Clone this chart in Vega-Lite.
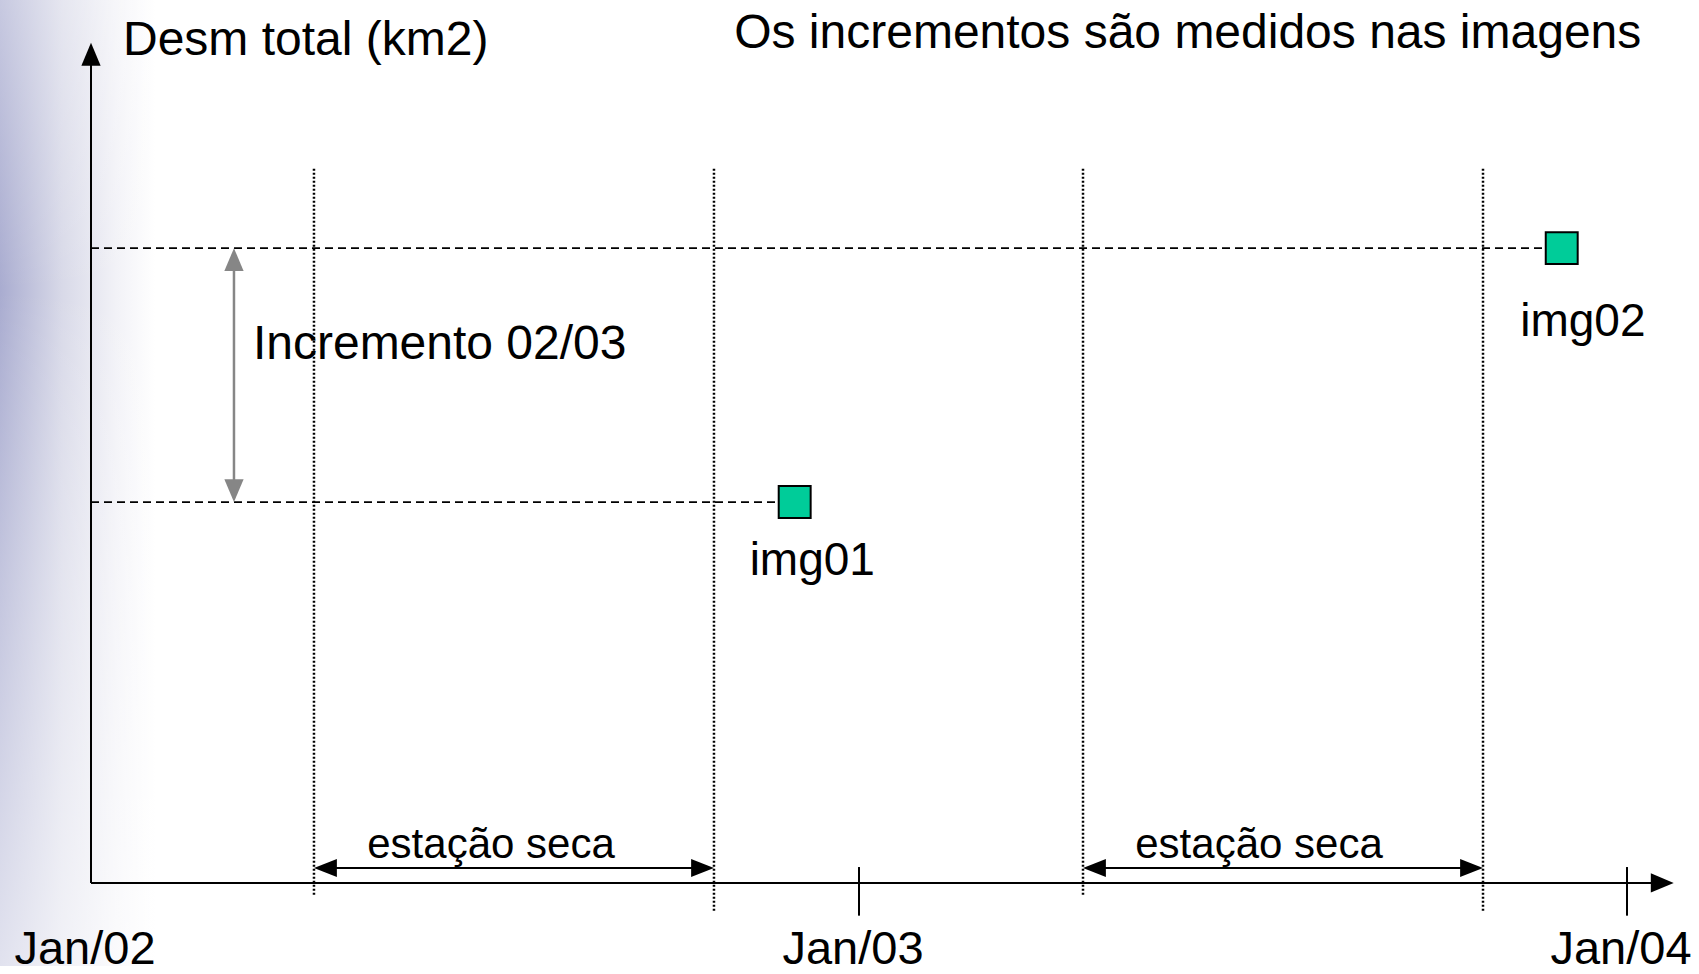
{
  "$schema": "https://vega.github.io/schema/vega-lite/v6.json",
  "width": 1699,
  "height": 974,
  "autosize": {"type": "fit", "contains": "padding"},
  "padding": 0,
  "background": "white",
  "config": {"view": {"stroke": null}, "text": {"font": "Liberation Sans", "color": "black"}},
  "datasets": {
    "bg": [{"t": -1.4219, "t2": 1.0, "v": -13.09, "v2": 139.09}],
    "solid": [
      {"t": 0, "t2": 0, "v": 0, "v2": 131},
      {"t": 0, "t2": 24.5, "v": 0, "v2": 0},
      {"t": 12, "t2": 12, "v": 2.5, "v2": -5.16},
      {"t": 24, "t2": 24, "v": 2.5, "v2": -5.16}
    ],
    "dotted": [
      {"t": 3.484, "t2": 3.484, "v": 112.5, "v2": -2.03},
      {"t": 9.734, "t2": 9.734, "v": 112.5, "v2": -4.69},
      {"t": 15.5, "t2": 15.5, "v": 112.5, "v2": -2.03},
      {"t": 21.75, "t2": 21.75, "v": 112.5, "v2": -4.69}
    ],
    "dashed": [
      {"t": 0, "t2": 10.995, "v": 60, "v2": 60},
      {"t": 0, "t2": 22.98, "v": 100, "v2": 100}
    ],
    "increment": [{"t": 2.234, "t2": 2.234, "v": 61, "v2": 99}],
    "season": [
      {"t": 3.6, "t2": 9.6, "v": 2.34, "v2": 2.34},
      {"t": 15.6, "t2": 21.6, "v": 2.34, "v2": 2.34}
    ],
    "heads": [
      {"t": 0, "v": 132.34, "dir": "up", "group": "axis"},
      {"t": 24.73, "v": 0, "dir": "right", "group": "axis"},
      {"t": 2.234, "v": 100, "dir": "up", "group": "increment"},
      {"t": 2.234, "v": 60, "dir": "down", "group": "increment"},
      {"t": 3.484, "v": 2.34, "dir": "sleft", "group": "axis"},
      {"t": 9.734, "v": 2.34, "dir": "sright", "group": "axis"},
      {"t": 15.5, "v": 2.34, "dir": "sleft", "group": "axis"},
      {"t": 21.75, "v": 2.34, "dir": "sright", "group": "axis"}
    ],
    "images": [
      {"name": "img01", "t": 10.995, "v": 60},
      {"name": "img02", "t": 22.98, "v": 100}
    ],
    "titles": [
      {"label": "Desm total (km2)", "t": 0.5, "v": 130.5},
      {"label": "Os incrementos são medidos nas imagens", "t": 10.05, "v": 131.6},
      {"label": "Incremento 02/03", "t": 2.53, "v": 82.5}
    ],
    "imglabels": [
      {"label": "img01", "t": 11.27, "v": 48.5},
      {"label": "img02", "t": 23.31, "v": 86.2}
    ],
    "seasonlabels": [
      {"label": "estação seca", "t": 6.25, "v": 3.9},
      {"label": "estação seca", "t": 18.25, "v": 3.9}
    ],
    "datelabels": [
      {"label": "Jan/02", "t": 0, "v": -12.8},
      {"label": "Jan/03", "t": 12, "v": -12.8},
      {"label": "Jan/04", "t": 24, "v": -12.8}
    ]
  },
  "encoding": {
    "x": {"field": "t", "type": "quantitative", "scale": {"domain": [-1.4219, 25.125], "nice": false, "zero": false}, "axis": null},
    "y": {"field": "v", "type": "quantitative", "scale": {"domain": [-13.09, 139.09], "nice": false, "zero": false}, "axis": null}
  },
  "layer": [
    {
      "data": {"name": "bg"},
      "mark": {"type": "rect", "fill": {"gradient": "linear", "x1": 0, "y1": 0, "x2": 1, "y2": 0, "stops": [{"offset": 0, "color": "#a9acd0"}, {"offset": 0.4, "color": "#d8d9e8"}, {"offset": 0.75, "color": "#f2f2f7"}, {"offset": 1, "color": "#ffffff"}]}},
      "encoding": {"x2": {"field": "t2"}, "y2": {"field": "v2"}}
    },
    {
      "data": {"name": "bg"},
      "mark": {"type": "rect", "fill": {"gradient": "linear", "x1": 0, "y1": 0, "x2": 0, "y2": 1, "stops": [{"offset": 0, "color": "rgba(255,255,255,0.35)"}, {"offset": 0.3, "color": "rgba(255,255,255,0)"}, {"offset": 0.6, "color": "rgba(255,255,255,0.3)"}, {"offset": 1, "color": "rgba(255,255,255,0.65)"}]}},
      "encoding": {"x2": {"field": "t2"}, "y2": {"field": "v2"}}
    },
    {
      "data": {"name": "dotted"},
      "mark": {"type": "rule", "color": "black", "strokeWidth": 2.5, "strokeDash": [2, 2]},
      "encoding": {"x2": {"field": "t2"}, "y2": {"field": "v2"}}
    },
    {
      "data": {"name": "dashed"},
      "mark": {"type": "rule", "color": "black", "strokeWidth": 1.8, "strokeDash": [8, 5]},
      "encoding": {"x2": {"field": "t2"}, "y2": {"field": "v2"}}
    },
    {
      "data": {"name": "solid"},
      "mark": {"type": "rule", "color": "black", "strokeWidth": 2},
      "encoding": {"x2": {"field": "t2"}, "y2": {"field": "v2"}}
    },
    {
      "data": {"name": "season"},
      "mark": {"type": "rule", "color": "black", "strokeWidth": 2},
      "encoding": {"x2": {"field": "t2"}, "y2": {"field": "v2"}}
    },
    {
      "data": {"name": "increment"},
      "mark": {"type": "rule", "color": "#868686", "strokeWidth": 2.5},
      "encoding": {"x2": {"field": "t2"}, "y2": {"field": "v2"}}
    },
    {
      "data": {"name": "heads"},
      "mark": {"type": "point", "filled": true, "size": 580, "opacity": 1, "strokeWidth": 0},
      "encoding": {
        "shape": {"field": "dir", "type": "nominal", "scale": {"domain": ["up", "down", "right", "sleft", "sright"], "range": ["M0,0L-0.8,1.9L0.8,1.9Z", "M0,0L-0.8,-1.9L0.8,-1.9Z", "M0,0L-1.9,-0.8L-1.9,0.8Z", "M0,0L1.9,-0.75L1.9,0.75Z", "M0,0L-1.9,-0.75L-1.9,0.75Z"]}, "legend": null},
        "color": {"field": "group", "type": "nominal", "scale": {"domain": ["axis", "increment"], "range": ["black", "#868686"]}, "legend": null}
      }
    },
    {
      "data": {"name": "images"},
      "mark": {"type": "point", "shape": "square", "size": 1020, "filled": true, "fill": "#00CC99", "stroke": "black", "strokeWidth": 2, "opacity": 1}
    },
    {
      "data": {"name": "titles"},
      "mark": {"type": "text", "align": "left", "baseline": "alphabetic", "fontSize": 48},
      "encoding": {"text": {"field": "label"}}
    },
    {
      "data": {"name": "imglabels"},
      "mark": {"type": "text", "align": "center", "baseline": "alphabetic", "fontSize": 46},
      "encoding": {"text": {"field": "label"}}
    },
    {
      "data": {"name": "seasonlabels"},
      "mark": {"type": "text", "align": "center", "baseline": "alphabetic", "fontSize": 42},
      "encoding": {"text": {"field": "label"}}
    },
    {
      "data": {"name": "datelabels"},
      "mark": {"type": "text", "align": "center", "baseline": "alphabetic", "fontSize": 47, "dx": -6},
      "encoding": {"text": {"field": "label"}}
    }
  ]
}
